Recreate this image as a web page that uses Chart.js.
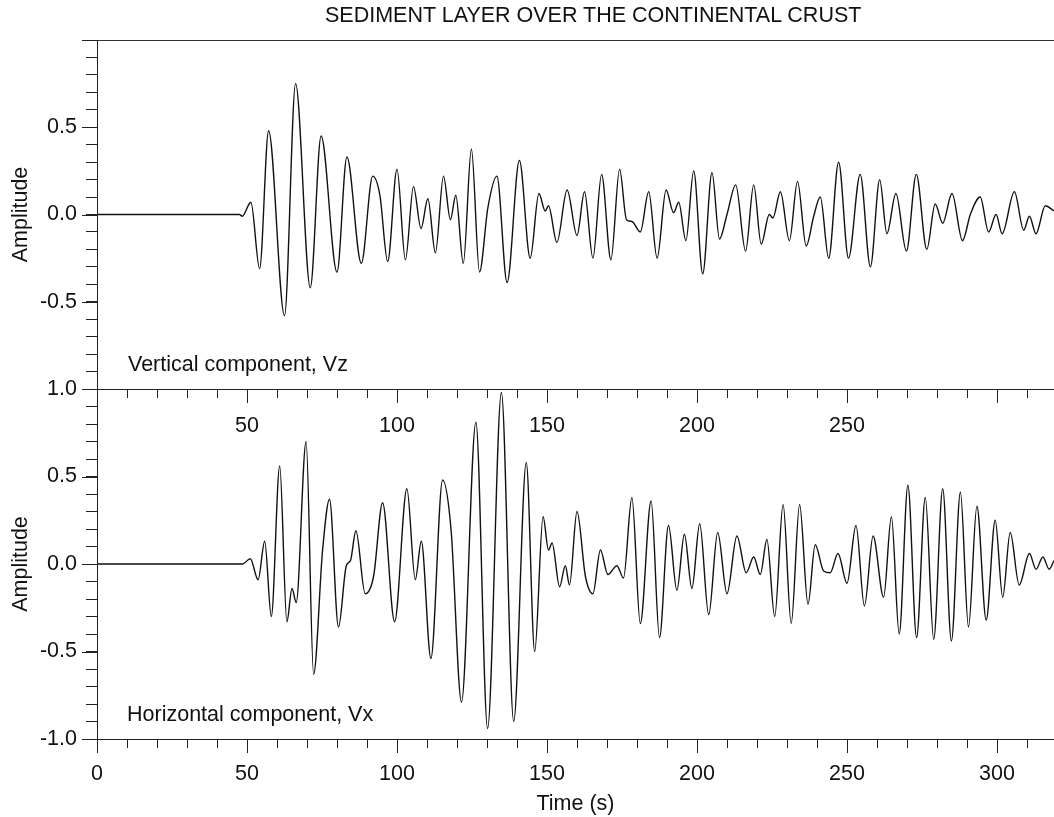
<!DOCTYPE html>
<html>
<head>
<meta charset="utf-8">
<script src="https://cdn.jsdelivr.net/npm/chart.js@4/dist/chart.umd.min.js"></script>
<style>
  body { margin: 0; background: #fff; }
  #wrap { position: relative; width: 1054px; height: 817px; font-family: "Liberation Sans", Arial, Helvetica, sans-serif; color: #111; }
  #wrap canvas { position: absolute; left: 0; top: 0; }
  #vz { z-index: 2; }
  .txt { position: absolute; font-size: 21.5px; line-height: 21.5px; white-space: nowrap; z-index: 3; }
</style>
</head>
<body>
<div id="wrap">
  <canvas id="vx" width="1054" height="817"></canvas>
  <canvas id="vz" width="1054" height="449"></canvas>
  <div class="txt" style="left:325px; top:5px;">SEDIMENT LAYER OVER THE CONTINENTAL CRUST</div>
  <div class="txt" style="left:128px; top:354px;">Vertical component, Vz</div>
  <div class="txt" style="left:127px; top:704px;">Horizontal component, Vx</div>
</div>
<script>
// vertical component (time in s, amplitude)
const vzTime = [0, 47.5, 48.4, 51.3, 54.2, 57.2, 62.5, 66.2, 71.1, 74.7, 80.0, 83.3, 88.1, 91.9, 94.3, 96.9,
  100.0, 102.8, 105.5, 108.0, 110.3, 112.8, 115.5, 117.8, 119.6, 122.1, 124.8, 127.5, 130.3, 133.3, 136.7,
  140.8, 144.4, 147.3, 149.4, 150.5, 153.3, 156.7, 160.0, 162.5, 165.3, 168.2, 171.3, 174.2, 176.5, 178.3,
  181.1, 183.9, 186.7, 189.7, 192.2, 193.9, 196.3, 198.9, 201.9, 205.0, 207.5, 210.0, 212.9, 216.2, 218.9,
  221.4, 224.1, 225.3, 227.8, 230.8, 233.5, 236.4, 238.9, 241.1, 243.9, 247.2, 250.5, 254.4, 257.8, 260.9,
  263.3, 266.3, 269.8, 273.1, 276.6, 279.4, 281.9, 285.0, 288.5, 291.1, 294.4, 297.2, 299.7, 301.7, 305.8,
  308.9, 310.8, 313.0, 316.1, 319];
const vzAmp = [0, 0, -0.01, 0.07, -0.31, 0.48, -0.58, 0.75, -0.42, 0.45, -0.33, 0.33, -0.28, 0.22, 0.11, -0.27,
  0.26, -0.26, 0.16, -0.08, 0.09, -0.22, 0.22, -0.03, 0.11, -0.28, 0.375, -0.33, 0.04, 0.22, -0.39,
  0.31, -0.25, 0.12, 0.02, 0.05, -0.16, 0.14, -0.12, 0.13, -0.25, 0.23, -0.26, 0.26, -0.03, -0.04,
  -0.10, 0.13, -0.25, 0.14, 0.01, 0.07, -0.15, 0.25, -0.34, 0.24, -0.14, 0.0, 0.17, -0.21, 0.17,
  -0.17, 0.0, -0.02, 0.13, -0.15, 0.19, -0.18, -0.01, 0.10, -0.25, 0.30, -0.25, 0.23, -0.30, 0.20,
  -0.11, 0.12, -0.21, 0.23, -0.20, 0.06, -0.05, 0.12, -0.15, 0.0, 0.10, -0.10, 0.0, -0.11, 0.13,
  -0.09, -0.01, -0.11, 0.05, 0.02];

// horizontal component
const vxTime = [0, 48.5, 51.1, 53.7, 55.9, 58.1, 60.9, 63.3, 65.0, 66.4, 69.7, 72.2, 75.2, 77.5, 80.5, 83.1,
  84.5, 86.3, 89.4, 92.2, 95.2, 99.2, 103.3, 106.1, 108.1, 111.3, 115.2, 118.0, 121.5, 126.3, 130.2,
  134.8, 138.9, 143.1, 145.9, 148.7, 150.5, 151.7, 154.2, 156.1, 157.5, 160.0, 162.8, 165.3, 167.8, 170.3,
  173.3, 175.5, 178.3, 181.1, 184.7, 187.5, 190.5, 193.3, 195.8, 198.3, 200.9, 203.9, 206.9, 210.0, 213.3,
  216.4, 218.9, 221.1, 223.3, 225.9, 228.7, 231.4, 234.2, 237.0, 239.4, 242.2, 244.4, 247.0, 250.0, 253.0,
  255.8, 258.7, 262.2, 264.8, 267.4, 270.3, 273.2, 276.1, 278.9, 281.9, 284.8, 287.8, 290.5, 293.3, 296.4,
  299.4, 301.9, 304.4, 307.4, 310.8, 313.0, 315.3, 317.4, 319];
const vxAmp = [0, 0, 0.03, -0.09, 0.13, -0.30, 0.56, -0.33, -0.14, -0.22, 0.70, -0.63, 0.08, 0.37, -0.36, -0.01,
  0.02, 0.19, -0.17, -0.07, 0.35, -0.33, 0.43, -0.09, 0.13, -0.54, 0.48, 0.20, -0.79, 0.81, -0.94,
  0.98, -0.90, 0.58, -0.50, 0.27, 0.08, 0.12, -0.13, -0.01, -0.12, 0.30, -0.07, -0.17, 0.08, -0.06,
  -0.01, -0.08, 0.38, -0.34, 0.36, -0.42, 0.22, -0.15, 0.17, -0.14, 0.23, -0.29, 0.18, -0.17, 0.16,
  -0.05, 0.04, -0.06, 0.14, -0.30, 0.34, -0.34, 0.34, -0.23, 0.11, -0.04, -0.05, 0.06, -0.11, 0.22,
  -0.24, 0.16, -0.19, 0.27, -0.40, 0.45, -0.42, 0.38, -0.43, 0.43, -0.44, 0.41, -0.36, 0.33, -0.32,
  0.25, -0.19, 0.18, -0.12, 0.06, -0.03, 0.04, -0.03, 0.02];

const timeMax = 319;
const fontFamily = '"Liberation Sans", Arial, Helvetica, sans-serif';
Chart.defaults.font.family = fontFamily;
Chart.defaults.font.size = 21.5;
Chart.defaults.color = '#111';

// longer tick marks at every 50 s and every 0.5
const majorTicks = {
  id: 'majorTicks',
  afterDraw(chart) {
    const ctx = chart.ctx;
    const xs = chart.scales.x, ys = chart.scales.y;
    ctx.save();
    ctx.strokeStyle = '#222';
    ctx.lineWidth = 1;
    ctx.beginPath();
    xs.ticks.forEach(t => {
      if (Math.round(t.value) % 50 === 0) {
        const px = Math.round(xs.getPixelForValue(t.value)) + 0.5;
        ctx.moveTo(px, xs.top);
        ctx.lineTo(px, xs.top + 14);
      }
    });
    ys.ticks.forEach(t => {
      if (Math.round(t.value * 10) % 5 === 0) {
        const py = Math.round(ys.getPixelForValue(t.value)) + 0.5;
        ctx.moveTo(ys.right - 15, py);
        ctx.lineTo(ys.right, py);
      }
    });
    ctx.stroke();
    ctx.restore();
  }
};

function points(ts, as) {
  return ts.map((t, i) => ({ x: t, y: as[i] }));
}

function makeChart(id, ts, as, isTop) {
  return new Chart(document.getElementById(id), {
    type: 'line',
    data: {
      datasets: [{
        data: points(ts, as),
        borderColor: '#111',
        borderWidth: 1.4,
        pointRadius: 0,
        cubicInterpolationMode: 'monotone',
        fill: false
      }]
    },
    options: {
      responsive: false,
      animation: false,
      events: [],
      layout: { padding: isTop ? { top: 40, left: 0, right: 0, bottom: 0 } : { top: 389, left: 0, right: 0, bottom: 0 } },
      plugins: { legend: { display: false }, tooltip: { enabled: false } },
      scales: {
        x: {
          type: 'linear',
          min: 0,
          max: timeMax,
          afterFit: s => { s.height = isTop ? 60 : 78; },
          border: { display: true, color: '#222', width: 1 },
          grid: { drawOnChartArea: false, tickLength: 9, tickColor: '#222' },
          ticks: {
            stepSize: 10,
            includeBounds: false,
            maxRotation: 0,
            autoSkip: false,
            padding: isTop ? 15 : 13,
            callback: v => {
              const r = Math.round(v);
              if (r % 50 !== 0) return '';
              if (isTop && (r === 0 || r >= 300)) return '';
              return String(r);
            }
          },
          title: { display: !isTop, text: 'Time (s)', padding: { top: 0, bottom: 0 } }
        },
        y: {
          min: -1,
          max: 1,
          afterFit: s => { s.width = 97; },
          border: { display: true, color: '#222', width: 1 },
          grid: {
            drawOnChartArea: isTop,
            color: c => (c.tick && Math.abs(c.tick.value - 1) < 1e-6) ? '#333' : 'rgba(0,0,0,0)',
            tickLength: 11,
            tickColor: '#222'
          },
          ticks: {
            stepSize: 0.1,
            autoSkip: false,
            padding: 9,
            callback: v => {
              const r = Math.round(v * 10);
              if (r % 5 !== 0) return '';
              if (isTop && Math.abs(r) === 10) return '';
              return (r / 10).toFixed(1);
            }
          },
          title: { display: true, text: 'Amplitude', padding: { top: 8, bottom: 0 } }
        }
      }
    },
    plugins: [majorTicks]
  });
}

makeChart('vx', vxTime, vxAmp, false);
makeChart('vz', vzTime, vzAmp, true);
</script>
</body>
</html>
